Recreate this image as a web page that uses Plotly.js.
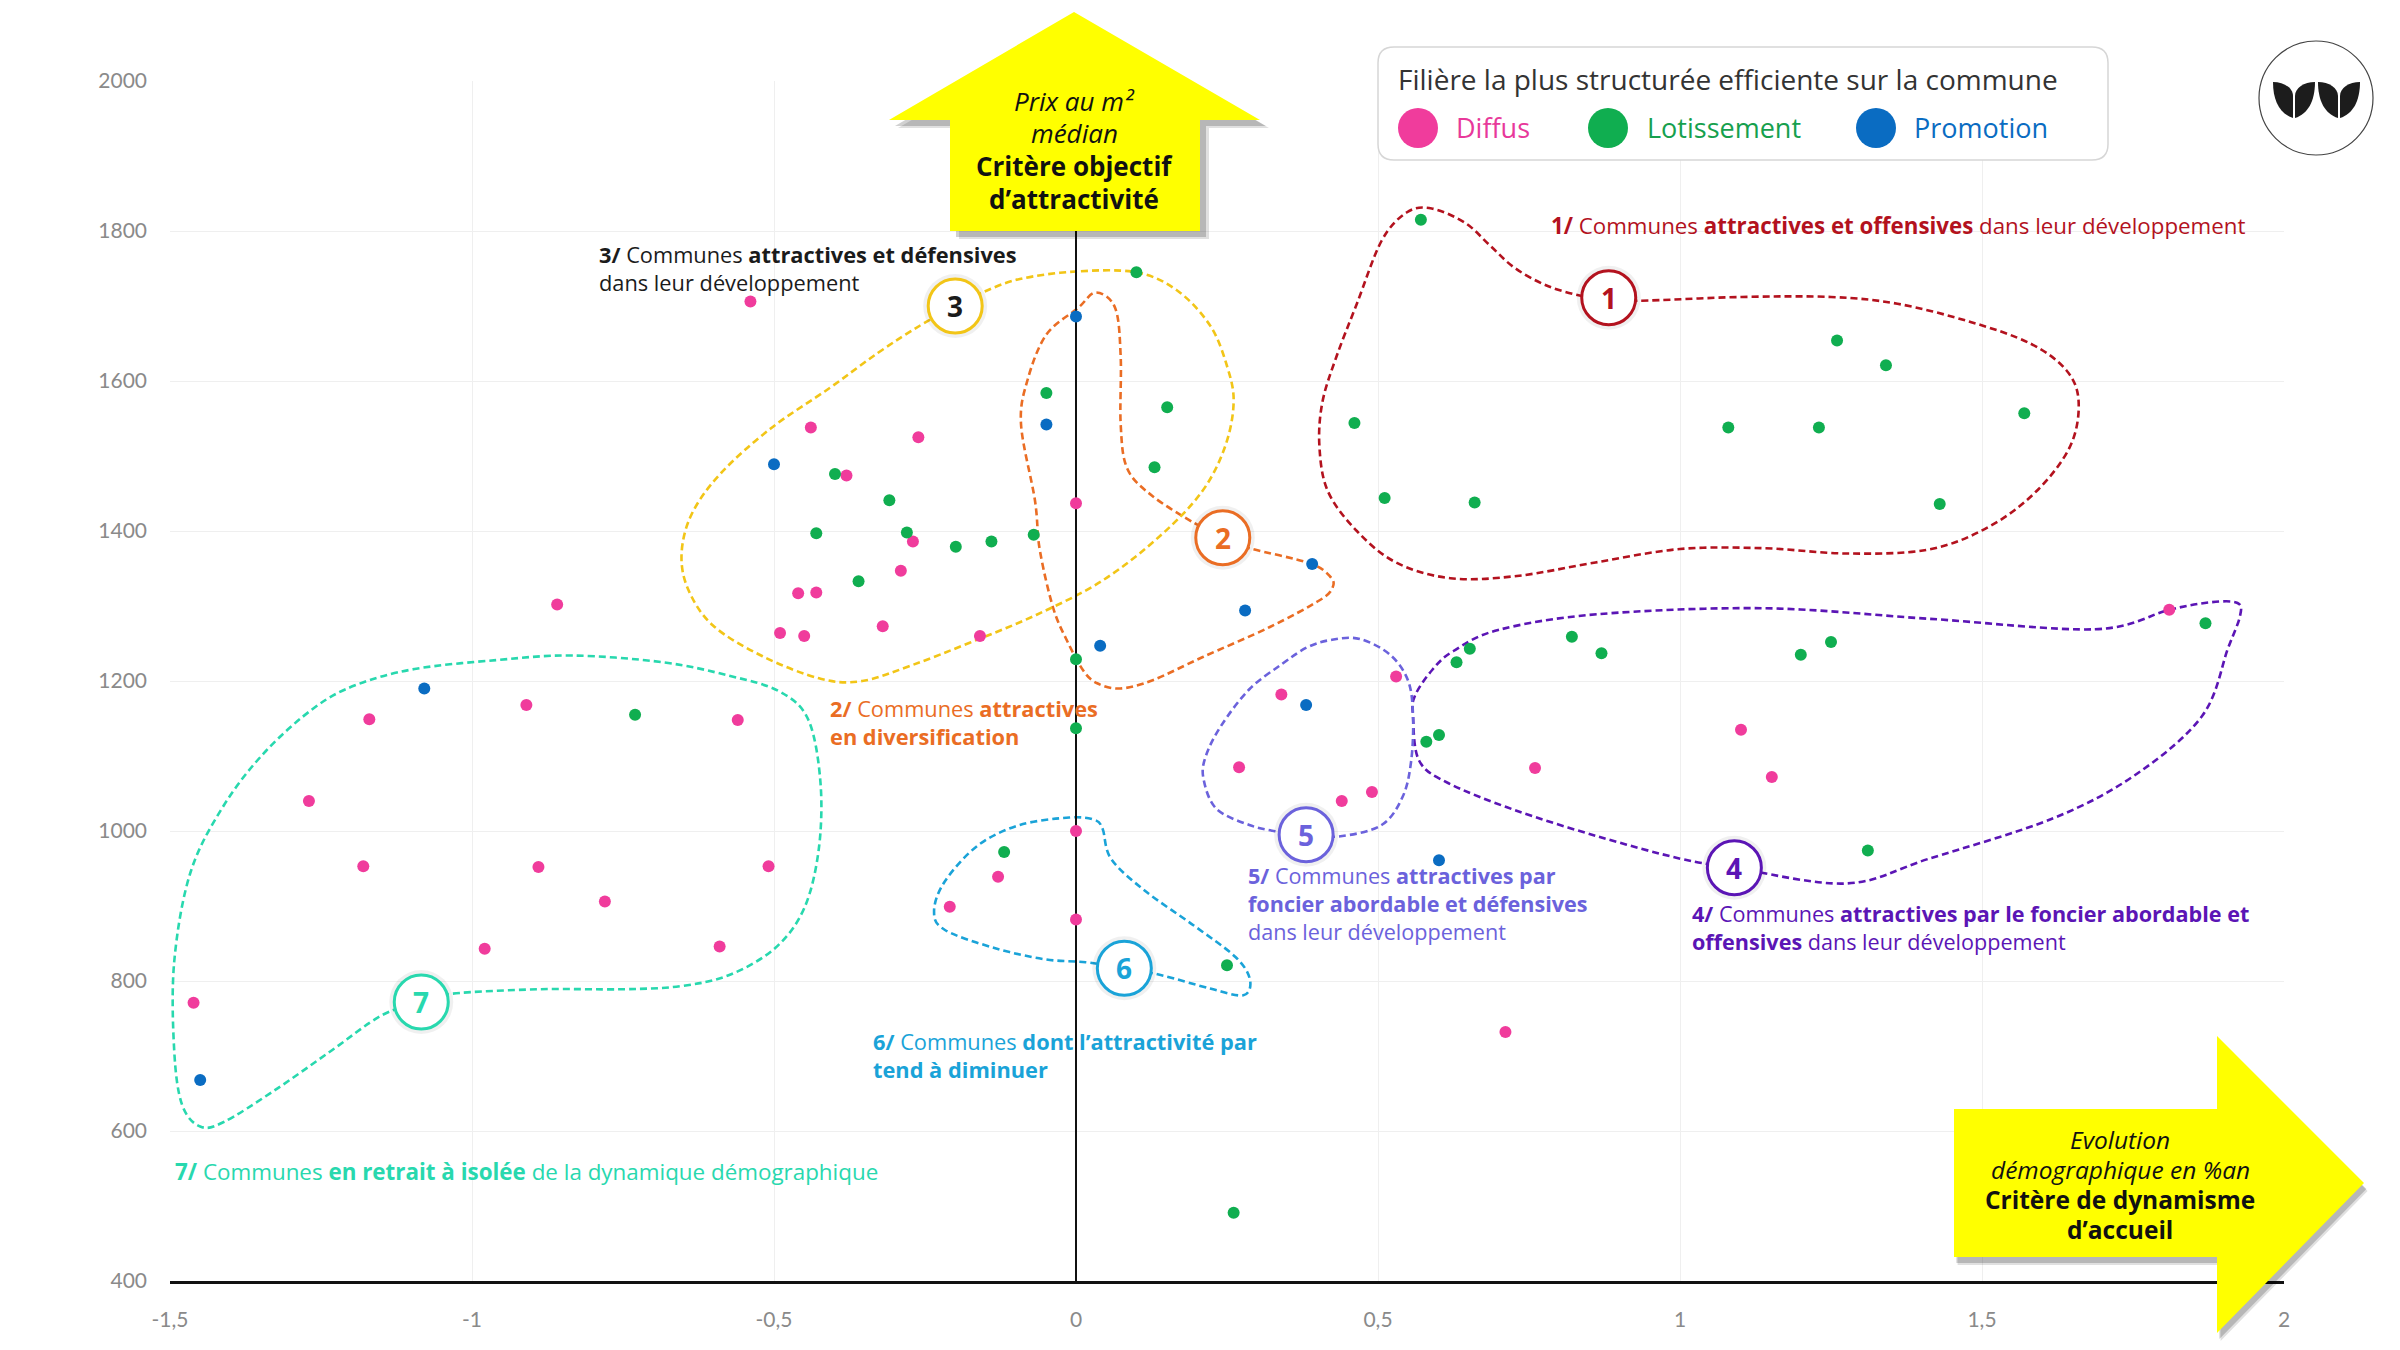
<!DOCTYPE html>
<html>
<head>
<meta charset="utf-8">
<script src="https://cdn.plot.ly/plotly-3.0.1.min.js"></script>
<style>
  html, body { margin: 0; padding: 0; background: #ffffff; }
  #chart { width: 2400px; height: 1350px; }
</style>
</head>
<body>
<div id="chart"></div>
<script>
// ---------------- DATA ----------------
const diffusX = [-0.539, -0.439, -0.261, -0.380, 0.000, -0.270, -0.290, -0.460, -0.430, -0.859,
                 -0.490, -0.450, -0.320, -0.159, 1.810, 0.530, 0.340, -0.910, -1.170, -0.560,
                 -1.270, -1.180, -0.890, -0.509, -0.780, -0.979, -0.590, -1.461, 0.000, -0.129,
                 -0.209, 0.000, 0.270, 1.101, 0.760, 1.152, 0.490, 0.440, 0.711];
const diffusY = [1706, 1538, 1525, 1474, 1437, 1386, 1347, 1317, 1318, 1302,
                 1264, 1260, 1273, 1260, 1295, 1206, 1182, 1168, 1149, 1148,
                 1040, 953, 952, 953, 906, 843, 846, 771, 1000, 939,
                 899, 882, 1085, 1135, 1084, 1072, 1052, 1040, 732];

const lotX = [0.100, -0.049, 0.151, -0.399, 0.130, -0.309, -0.430, -0.280, -0.199, -0.140,
              -0.070, -0.360, 0.000, 0.571, 1.260, 1.341, 0.461, 1.080, 1.230, 1.570,
              0.511, 0.660, 1.430, 1.870, 0.821, 0.870, 1.250, 1.200, 0.652, 0.630,
              -0.730, 0.000, -0.119, 0.250, 0.261, 0.601, 0.580, 1.311];
const lotY = [1745, 1584, 1565, 1476, 1485, 1441, 1397, 1398, 1379, 1386,
              1395, 1333, 1229, 1815, 1654, 1621, 1544, 1538, 1538, 1557,
              1444, 1438, 1436, 1277, 1259, 1237, 1252, 1235, 1243, 1225,
              1155, 1137, 972, 821, 491, 1128, 1119, 974];

const promoX = [0.000, -0.049, -0.500, 0.280, 0.040, -1.079, 0.391, 0.381, -1.450, 0.601];
const promoY = [1686, 1542, 1489, 1294, 1247, 1190, 1356, 1168, 668, 961];

const seriesNames = ["Diffus", "Lotissement", "Promotion"];
const seriesColors = ["#f03c9c", "#10ae50", "#0a6cc2"];
const legendTextColors = ["#e8389a", "#16a04e", "#0a6cc2"];
const legendTitle = "Filière la plus structurée efficiente sur la commune";

const xTickVals = [-1.5, -1, -0.5, 0, 0.5, 1, 1.5, 2];
const xTickText = ["-1,5", "-1", "-0,5", "0", "0,5", "1", "1,5", "2"];
const yTickVals = [400, 600, 800, 1000, 1200, 1400, 1600, 1800, 2000];
const yTickText = ["400", "600", "800", "1000", "1200", "1400", "1600", "1800", "2000"];

const upArrowLines = ["<i>Prix au m²</i>", "<i>médian</i>", "<b>Critère objectif</b>", "<b>d’attractivité</b>"];
const rightArrowLines = ["<i>Evolution</i>", "<i>démographique en %an</i>", "<b>Critère de dynamisme</b>", "<b>d’accueil</b>"];

const groupLabels = [
  "<b>1/</b> Communes <b>attractives et offensives</b> dans leur développement",
  "<b>2/</b> Communes <b>attractives</b><br><b>en diversification</b>",
  "<b>3/</b> Communes <b>attractives et défensives</b><br>dans leur développement",
  "<b>4/</b> Communes <b>attractives par le foncier abordable et</b><br><b>offensives</b> dans leur développement",
  "<b>5/</b> Communes <b>attractives par</b><br><b>foncier abordable et défensives</b><br>dans leur développement",
  "<b>6/</b> Communes <b>dont l’attractivité par</b><br><b>tend à diminuer</b>",
  "<b>7/</b> Communes <b>en retrait à isolée</b> de la dynamique démographique"
];
const groupNumbers = ["1", "2", "3", "4", "5", "6", "7"];

// ---------------- DECORATION (positions / styles) ----------------
const groupColors = ["#b3121e", "#ea6d24", "#f2c517", "#5b15b5", "#6b62dc", "#1aa3d8", "#28d8ae"];
const groupTextColors = ["#b3121e", "#ea6d24", "#1b1b1b", "#5b15b5", "#6b62dc", "#1aa3d8", "#28d8ae"];
const circlePos = [[0.882, 1711], [0.243, 1391], [-0.200, 1700], [1.090, 951], [0.381, 995], [0.080, 817], [-1.084, 772]];
const labelPos = [[1549, 225], [828, 722], [597, 268], [1690, 927], [1246, 903], [871, 1055], [173, 1171]];
const labelSizes = [22.3, 21.8, 21.8, 21.6, 21.6, 21.8, 22.4];

const outlines = [
  [[0.882,1711],[0.93,1707],[1.10,1712],[1.25,1712],[1.36,1703],[1.48,1679],[1.58,1650],[1.64,1614],[1.66,1572],[1.646,1513],
   [1.59,1453],[1.51,1405],[1.41,1375],[1.275,1370],[1.14,1377],[1.00,1376],[0.86,1358],[0.73,1340],[0.62,1337],[0.53,1358],
   [0.465,1400],[0.417,1453],[0.403,1513],[0.408,1572],[0.431,1632],[0.465,1703],[0.506,1787],[0.548,1825],[0.589,1830],
   [0.644,1811],[0.685,1781],[0.726,1751],[0.78,1727],[0.84,1713]],
  [[0.243,1391],[0.288,1377],[0.387,1357],[0.421,1339],[0.425,1325],[0.404,1308],[0.321,1272],[0.210,1232],[0.127,1201],
   [0.073,1190],[0.035,1197],[0.012,1214],[-0.015,1254],[-0.038,1298],[-0.060,1375],[-0.068,1441],[-0.091,1542],[-0.080,1602],
   [-0.049,1662],[0.003,1697],[0.033,1718],[0.065,1697],[0.074,1632],[0.074,1542],[0.085,1483],[0.126,1447],[0.195,1411]],
  [[-0.200,1700],[-0.155,1718],[-0.093,1736],[0,1746],[0.099,1745],[0.167,1721],[0.222,1674],[0.250,1620],[0.261,1572],
   [0.247,1513],[0.209,1453],[0.140,1394],[0.044,1334],[-0.066,1288],[-0.176,1251],[-0.272,1221],[-0.354,1200],[-0.423,1203],
   [-0.519,1233],[-0.601,1274],[-0.642,1322],[-0.653,1370],[-0.636,1423],[-0.588,1477],[-0.505,1537],[-0.409,1590],
   [-0.327,1638],[-0.258,1674]],
  [[1.090,951],[1.001,963],[0.863,993],[0.726,1028],[0.616,1064],[0.568,1094],[0.558,1153],[0.561,1180],[0.590,1215],
   [0.625,1240],[0.699,1268],[0.863,1289],[1.138,1297],[1.412,1283],[1.687,1269],[1.810,1295],[1.879,1305],[1.923,1304],
   [1.927,1286],[1.907,1243],[1.865,1154],[1.756,1076],[1.618,1017],[1.412,963],[1.275,930]],
  [[0.381,995],[0.438,993],[0.506,1008],[0.541,1046],[0.555,1094],[0.558,1153],[0.550,1200],[0.520,1235],[0.470,1256],
   [0.424,1255],[0.383,1245],[0.340,1222],[0.287,1189],[0.240,1140],[0.215,1100],[0.211,1070],[0.232,1030],[0.287,1008],[0.335,999]],
  [[0.080,817],[0.140,808],[0.222,790],[0.277,781],[0.288,802],[0.264,832],[0.195,874],[0.113,921],[0.058,963],[0.044,1003],
   [0.030,1015],[-0.011,1018],[-0.093,1008],[-0.162,981],[-0.217,933],[-0.235,893],[-0.217,868],[-0.135,844],[-0.052,829],[0.016,825]],
  [[-1.084,772],[-1.034,783],[-0.890,789],[-0.752,789],[-0.656,793],[-0.574,808],[-0.498,844],[-0.450,897],[-0.426,975],
   [-0.423,1064],[-0.443,1148],[-0.491,1186],[-0.574,1207],[-0.684,1225],[-0.835,1234],[-0.958,1228],[-1.095,1216],[-1.191,1195],
   [-1.260,1165],[-1.342,1106],[-1.411,1034],[-1.466,945],[-1.493,826],[-1.493,707],[-1.480,635],[-1.450,606],[-1.411,612],
   [-1.329,653],[-1.233,707],[-1.150,754]]
];

// ---------------- HELPERS ----------------
const PL = 170, PR = 2284, PT = 81, PB = 1281;
const px2x = X => (X - PL) / (PR - PL);
const px2y = Y => (PB - Y) / (PB - PT);
const f = v => v.toFixed(5);
const P = (X, Y) => f(px2x(X)) + "," + f(px2y(Y));

function closedSpline(pts) {
  const n = pts.length;
  let d = "M" + pts[0][0] + "," + pts[0][1];
  for (let i = 0; i < n; i++) {
    const p0 = pts[(i - 1 + n) % n], p1 = pts[i], p2 = pts[(i + 1) % n], p3 = pts[(i + 2) % n];
    const c1 = [p1[0] + (p2[0] - p0[0]) / 6, p1[1] + (p2[1] - p0[1]) / 6];
    const c2 = [p2[0] - (p3[0] - p1[0]) / 6, p2[1] - (p3[1] - p1[1]) / 6];
    d += " C" + c1[0].toFixed(4) + "," + c1[1].toFixed(3) + " " + c2[0].toFixed(4) + "," + c2[1].toFixed(3) + " " + p2[0] + "," + p2[1];
  }
  return d + " Z";
}
function pxPoly(pts) {
  return "M" + pts.map(p => P(p[0], p[1])).join(" L") + " Z";
}
function roundRect(x0, y0, x1, y1, r) {
  return "M" + P(x0 + r, y0) + " L" + P(x1 - r, y0) + " Q" + P(x1, y0) + " " + P(x1, y0 + r) +
         " L" + P(x1, y1 - r) + " Q" + P(x1, y1) + " " + P(x1 - r, y1) +
         " L" + P(x0 + r, y1) + " Q" + P(x0, y1) + " " + P(x0, y1 - r) +
         " L" + P(x0, y0 + r) + " Q" + P(x0, y0) + " " + P(x0 + r, y0) + " Z";
}
function pxCircle(cx, cy, r, fill, lineColor, lw) {
  return {type: "circle", xref: "paper", yref: "paper", layer: "above",
          x0: px2x(cx - r), x1: px2x(cx + r), y0: px2y(cy + r), y1: px2y(cy - r),
          fillcolor: fill, line: {color: lineColor, width: lw}};
}
function leafLeft(x0) {
  const x1 = x0 + 20;
  return "M" + P(x0, 82) + " C" + P(x0, 101) + " " + P(x0 + 7, 114) + " " + P(x1, 118) +
         " L" + P(x1, 96) + " C" + P(x1, 88) + " " + P(x0 + 11, 82) + " " + P(x0, 82) + " Z";
}
function leafRight(x0) {
  const x1 = x0 + 20;
  return "M" + P(x1, 82) + " C" + P(x1, 101) + " " + P(x1 - 7, 114) + " " + P(x0, 118) +
         " L" + P(x0, 96) + " C" + P(x0, 88) + " " + P(x1 - 11, 82) + " " + P(x1, 82) + " Z";
}

// ---------------- TRACES ----------------
const xs = [diffusX, lotX, promoX], ys = [diffusY, lotY, promoY];
const traces = seriesNames.map((name, i) => ({
  type: "scatter", mode: "markers", name: name, x: xs[i], y: ys[i],
  marker: {color: seriesColors[i], size: 12},
  showlegend: false, hoverinfo: "x+y+name"
}));

// ---------------- SHAPES ----------------
const shapes = [];
outlines.forEach((pts, i) => {
  shapes.push({type: "path", xref: "x", yref: "y", layer: "between", path: closedSpline(pts),
               line: {color: groupColors[i], width: 2.6, dash: "7px,4px"}, fillcolor: "rgba(0,0,0,0)"});
});
shapes.push({type: "line", xref: "x", yref: "y", layer: "between", x0: 0, x1: 0, y0: 400, y1: 1800,
             line: {color: "#111111", width: 2}});
circlePos.forEach((c, i) => {
  shapes.push({type: "circle", xref: "x", yref: "y", xsizemode: "pixel", ysizemode: "pixel", layer: "above",
               xanchor: c[0], yanchor: c[1], x0: -32, x1: 32, y0: -32, y1: 32,
               fillcolor: "rgba(0,0,0,0.06)", line: {width: 0}});
  shapes.push({type: "circle", xref: "x", yref: "y", xsizemode: "pixel", ysizemode: "pixel", layer: "above",
               xanchor: c[0], yanchor: c[1], x0: -27, x1: 27, y0: -27, y1: 27,
               fillcolor: "#ffffff", line: {color: groupColors[i], width: 3}});
});
const upArrow = [[950,231],[950,120],[889,120],[1074,12],[1260,120],[1200,120],[1200,231]];
const rightArrow = [[1954,1109],[2217,1109],[2217,1036],[2364,1183],[2217,1333],[2217,1257],[1954,1257]];
[[9, 8, 0.12], [6, 6, 0.18]].forEach(s => {
  shapes.push({type: "path", xref: "paper", yref: "paper", layer: "above",
               path: pxPoly(upArrow.map(p => [p[0] + s[0], p[1] + s[1]])), fillcolor: "rgba(0,0,0," + s[2] + ")", line: {width: 0}});
  shapes.push({type: "path", xref: "paper", yref: "paper", layer: "above",
               path: pxPoly(rightArrow.map(p => [p[0] + s[0] * 0.4, p[1] + s[1]])), fillcolor: "rgba(0,0,0," + s[2] + ")", line: {width: 0}});
});
shapes.push({type: "path", xref: "paper", yref: "paper", layer: "above", path: pxPoly(upArrow),
             fillcolor: "#ffff00", line: {width: 0}});
shapes.push({type: "path", xref: "paper", yref: "paper", layer: "above", path: pxPoly(rightArrow),
             fillcolor: "#ffff00", line: {width: 0}});
shapes.push({type: "path", xref: "paper", yref: "paper", layer: "above", path: roundRect(1378, 47, 2108, 160, 16),
             fillcolor: "#ffffff", line: {color: "#d6d6d6", width: 1.5}});
const legendCircleX = [1418, 1608, 1876];
legendCircleX.forEach((cx, i) => shapes.push(pxCircle(cx, 128, 20, seriesColors[i], seriesColors[i], 0)));
shapes.push(pxCircle(2316, 98, 57, "#ffffff", "#444444", 1.2));
[leafLeft(2273), leafRight(2295), leafLeft(2318), leafRight(2340)].forEach(p =>
  shapes.push({type: "path", xref: "paper", yref: "paper", layer: "above", path: p, fillcolor: "#1c1c1c", line: {width: 0}}));

// ---------------- ANNOTATIONS ----------------
const FONT = "'Open Sans', Lato, sans-serif";
const TICKFONT = "Lato, 'Open Sans', sans-serif";
const annotations = [];
groupLabels.forEach((t, i) => {
  annotations.push({xref: "paper", yref: "paper", x: px2x(labelPos[i][0]), y: px2y(labelPos[i][1]),
                    xanchor: "left", yanchor: "middle", align: "left", showarrow: false, text: t,
                    font: {family: FONT, size: labelSizes[i], color: groupTextColors[i]}});
});
circlePos.forEach((c, i) => {
  annotations.push({xref: "x", yref: "y", x: c[0], y: c[1], xanchor: "center", yanchor: "middle", showarrow: false,
                    text: "<b>" + groupNumbers[i] + "</b>", font: {family: FONT, size: 28, color: groupTextColors[i]}});
});
const upLineY = [101, 133, 166, 199];
upArrowLines.forEach((t, i) => annotations.push({xref: "paper", yref: "paper", x: px2x(1074), y: px2y(upLineY[i]),
  xanchor: "center", yanchor: "middle", showarrow: false, text: t, font: {family: FONT, size: 26, color: "#111111"}}));
const rightLineY = [1139, 1169, 1199, 1229];
rightArrowLines.forEach((t, i) => annotations.push({xref: "paper", yref: "paper", x: px2x(2120), y: px2y(rightLineY[i]),
  xanchor: "center", yanchor: "middle", showarrow: false, text: t, font: {family: FONT, size: 24.5, color: "#111111"}}));
annotations.push({xref: "paper", yref: "paper", x: px2x(1396), y: px2y(79), xanchor: "left", yanchor: "middle",
                  showarrow: false, text: legendTitle, font: {family: FONT, size: 28, color: "#333333"}});
const legendTextX = [1454, 1645, 1912];
seriesNames.forEach((n, i) => {
  annotations.push({xref: "paper", yref: "paper", x: px2x(legendTextX[i]), y: px2y(127), xanchor: "left", yanchor: "middle",
                    showarrow: false, text: n, font: {family: FONT, size: 27, color: legendTextColors[i]}});
});

// ---------------- LAYOUT ----------------
const layout = {
  width: 2400, height: 1350,
  margin: {l: PL, r: 2400 - PR, t: PT, b: 1350 - PB, pad: 0},
  paper_bgcolor: "#ffffff", plot_bgcolor: "#ffffff",
  font: {family: FONT, color: "#333333"},
  showlegend: false,
  separators: ", ",
  xaxis: {range: [-1.5, 2], tickmode: "array", tickvals: xTickVals, ticktext: xTickText,
          showgrid: true, gridcolor: "#efefef", gridwidth: 1, zeroline: false,
          showline: true, linecolor: "#111111", linewidth: 3, ticks: "", ticklabelstandoff: 18,
          tickfont: {family: TICKFONT, size: 21, color: "#8a8a8a"}, fixedrange: true},
  yaxis: {range: [400, 2000], tickmode: "array", tickvals: yTickVals, ticktext: yTickText,
          showgrid: true, gridcolor: "#efefef", gridwidth: 1, zeroline: false,
          showline: false, ticks: "", ticklabelstandoff: 22,
          tickfont: {family: TICKFONT, size: 21, color: "#8a8a8a"}, fixedrange: true},
  shapes: shapes,
  annotations: annotations
};

Plotly.newPlot("chart", traces, layout, {displayModeBar: false, staticPlot: true});
</script>
</body>
</html>
